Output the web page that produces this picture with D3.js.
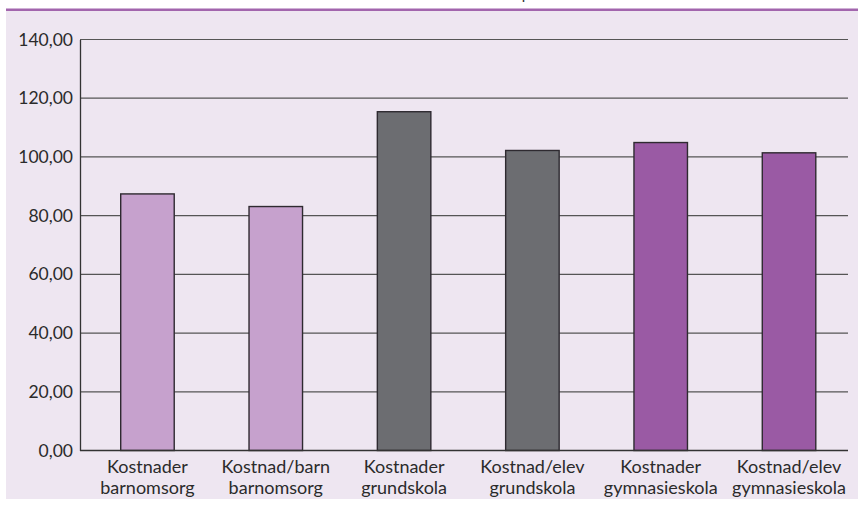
<!DOCTYPE html>
<html>
<head>
<meta charset="utf-8">
<script src="https://cdn.jsdelivr.net/npm/d3@7"></script>
<style>
  body { margin: 0; background: #fff; }
  svg text { font-family: Lato, "Open Sans", sans-serif; fill: #2b2b2b; }
</style>
</head>
<body>
<div id="chart"></div>
<script>
// Kostnader per område (index)
var categories = [
  ["Kostnader", "barnomsorg"],
  ["Kostnad/barn", "barnomsorg"],
  ["Kostnader", "grundskola"],
  ["Kostnad/elev", "grundskola"],
  ["Kostnader", "gymnasieskola"],
  ["Kostnad/elev", "gymnasieskola"]
];
var values = [87.4, 83.1, 115.4, 102.2, 104.9, 101.4];
var groups = ["barn", "barn", "grund", "grund", "gymn", "gymn"];
var yTicks = [0, 20, 40, 60, 80, 100, 120, 140];

var width = 858, height = 509;
var plot = {left: 80, right: 848, top: 39.5, bottom: 450.5};

var color = d3.scaleOrdinal()
  .domain(["barn", "grund", "gymn"])
  .range(["#c6a1cd", "#6c6d71", "#9a5aa4"]);

var svg = d3.select("#chart").append("svg")
  .attr("width", width)
  .attr("height", height);

// background panel and top rule
svg.append("rect")
  .attr("x", 6).attr("y", 10)
  .attr("width", width - 6).attr("height", 489)
  .attr("fill", "#eee6f1");
svg.append("rect")
  .attr("x", 6).attr("y", 8.5)
  .attr("width", width - 6).attr("height", 2.5)
  .attr("fill", "#a265ad");
// cut-off title fragment above the rule
svg.append("text")
  .attr("x", 526).attr("y", -1)
  .attr("text-anchor", "middle")
  .style("font-size", "15px")
  .text("p");

var x = d3.scaleBand()
  .domain(d3.range(values.length))
  .range([83.5, 853])
  .paddingInner(0.583)
  .paddingOuter(0.29);

var y = d3.scaleLinear()
  .domain([0, 140])
  .range([plot.bottom, plot.top]);

// gridlines
svg.append("g")
  .selectAll("line")
  .data(yTicks.filter(d => d > 0))
  .join("line")
    .attr("x1", plot.left).attr("x2", plot.right)
    .attr("y1", d => y(d)).attr("y2", d => y(d))
    .attr("stroke", "#555")
    .attr("stroke-width", 1.2);

// y axis
var yAxis = svg.append("g")
  .attr("transform", "translate(" + plot.left + ",0)")
  .call(d3.axisLeft(y)
    .tickValues(yTicks)
    .tickSize(0)
    .tickPadding(7)
    .tickFormat(d => d3.format(".2f")(d).replace(".", ",")));
yAxis.select(".domain").attr("stroke", "#333").attr("stroke-width", 1.3);
yAxis.selectAll("text")
  .style("font-size", "17.5px")
  .style("font-family", "Lato, sans-serif")
  .attr("fill", "#2b2b2b");

// bars
svg.append("g")
  .selectAll("rect")
  .data(values)
  .join("rect")
    .attr("x", (d, i) => x(i))
    .attr("y", d => y(d))
    .attr("width", x.bandwidth())
    .attr("height", d => y(0) - y(d))
    .attr("fill", (d, i) => color(groups[i]))
    .attr("stroke", "#2e2a30")
    .attr("stroke-width", 1.4);

// x axis baseline
svg.append("line")
  .attr("x1", plot.left).attr("x2", plot.right)
  .attr("y1", y(0)).attr("y2", y(0))
  .attr("stroke", "#333")
  .attr("stroke-width", 1.3);

// category labels
var lab = svg.append("g")
  .selectAll("text")
  .data(categories)
  .join("text")
    .attr("text-anchor", "middle")
    .style("font-size", "18px")
    .attr("transform", (d, i) => "translate(" + (x(i) + x.bandwidth() / 2) + ",472.5)");
lab.append("tspan").attr("x", 0).attr("dy", 0).text(d => d[0]);
lab.append("tspan").attr("x", 0).attr("dy", 21).text(d => d[1]);
</script>
</body>
</html>
